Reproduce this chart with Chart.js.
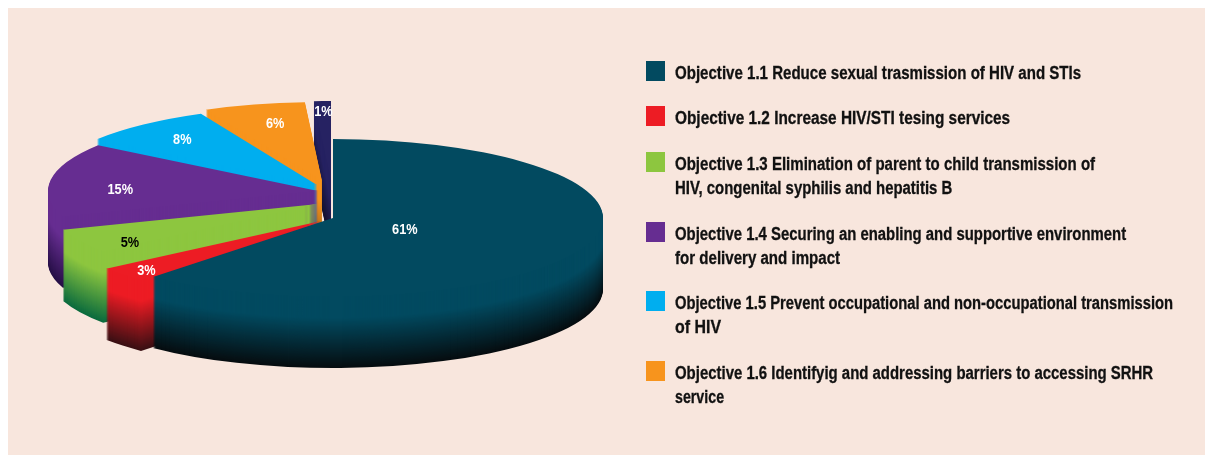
<!DOCTYPE html>
<html>
<head>
<meta charset="utf-8">
<title>Objectives</title>
<script src="https://cdn.jsdelivr.net/npm/chart.js@4/dist/chart.umd.min.js"></script>
<style>
  html, body { margin: 0; padding: 0; background: #fff; }
  body { width: 1205px; height: 455px; overflow: hidden; position: relative; }
  #panel { position: absolute; left: 8px; top: 8px; width: 1197px; height: 447px; background: #f8e6dd; }
  canvas { position: absolute; left: 0; top: 0; }
  #legend { position: absolute; left: 0; top: 0; font: bold 18px "Liberation Sans", sans-serif; color: #111; -webkit-text-stroke: 0.3px #111; }
  .item { position: absolute; left: 675px; line-height: 24px; white-space: nowrap; }
  .text { display: table; transform-origin: left top; }
  .swatch { position: absolute; left: -29px; top: 0; width: 19px; height: 20px; }
</style>
</head>
<body>
<div id="panel"></div>
<canvas id="pie" width="1205" height="455"></canvas>
<div id="legend"></div>
<script>
// valores
const percentages = [61, 3, 5, 15, 8, 6, 1];
const percentLabels = ["61%", "3%", "5%", "15%", "8%", "6%", "1%"];
const sliceColors = ["#024a60", "#ed1c24", "#8dc63f", "#662d91", "#00aeef", "#f7941d", "#262262"];
const sideColors = ["#060d10", "#3a1014", "#0b6b3e", "#260f46", "#0b5f90", "#8a5518", "#14122e"];
const labelColors = ["#fff", "#fff", "#000", "#fff", "#fff", "#fff", "#fff"];
const legendLabels = [
  ["Objective 1.1 Reduce sexual trasmission of HIV and STIs"],
  ["Objective 1.2 Increase HIV/STI tesing services"],
  ["Objective 1.3 Elimination of parent to child transmission of", "HIV, congenital syphilis and hepatitis B"],
  ["Objective 1.4 Securing an enabling and supportive environment", "for delivery and impact"],
  ["Objective 1.5 Prevent occupational and non-occupational transmission", "of HIV"],
  ["Objective 1.6 Identifyig and addressing barriers to accessing SRHR", "service"]
];
const legendTops = [61, 106, 152, 222, 291, 361];
// largura de cada linha na figura, a fonte original é condensada
const legendWidths = [[406], [335], [420, 277], [451, 165], [498, 46], [478, 49]];

// geometria do "3D"
const pieX = 333, pieY = 218, radiusX = 270, radiusY = 79, depth = 71;
const explode = [[0, 0], [-12, 3], [-15, -14], [-15, -27], [-16, -33], [-11, -37], [-2, -38]];
const labelFrac = [0.285, 0.88, 0.79, 0.74, 0.776, 0.69, 0.89];
const labelDrop = [4, 3, 9, 7, 2, -4, 2];

function mix(a, b, t) {
  const pa = parseInt(a.slice(1), 16), pb = parseInt(b.slice(1), 16);
  const ch = (s) => Math.round(((pa >> s) & 255) * (1 - t) + ((pb >> s) & 255) * t);
  return `rgb(${ch(16)},${ch(8)},${ch(0)})`;
}

const pie3d = {
  id: "pie3d",
  // cancela o desenho normal e redesenha cada fatia achatada e extrudada
  beforeDatasetDraw(chart) {
    const ctx = chart.ctx;
    const arcs = chart.getDatasetMeta(0).data;
    for (let i = arcs.length - 1; i >= 0; i--) {
      const arc = arcs[i];
      const base = arc.options;
      const sx = radiusX / arc.outerRadius, sy = radiusY / arc.outerRadius;
      for (let k = depth; k >= 0; k--) {
        const t = Math.max(0, (k / depth - 0.3) / 0.7);
        arc.options = Object.assign({}, base, { backgroundColor: mix(sliceColors[i], sideColors[i], t), borderWidth: 0 });
        ctx.save();
        ctx.translate(pieX + explode[i][0], pieY + explode[i][1] + k);
        ctx.scale(sx, sy);
        ctx.translate(-arc.x, -arc.y);
        arc.draw(ctx);
        ctx.restore();
      }
      arc.options = base;
    }
    return false;
  },
  afterDatasetsDraw(chart) {
    const ctx = chart.ctx;
    chart.getDatasetMeta(0).data.forEach((arc, i) => {
      const mid = (arc.startAngle + arc.endAngle) / 2;
      const x = pieX + explode[i][0] + Math.cos(mid) * radiusX * labelFrac[i];
      const y = pieY + explode[i][1] + Math.sin(mid) * radiusY * labelFrac[i] + labelDrop[i];
      ctx.save();
      ctx.translate(x, y);
      ctx.scale(0.85, 1);
      ctx.font = 'bold 15px "Liberation Sans", sans-serif';
      ctx.textAlign = "center";
      ctx.textBaseline = "middle";
      ctx.fillStyle = labelColors[i];
      ctx.fillText(percentLabels[i], 0, 0);
      ctx.restore();
    });
  }
};

new Chart(document.getElementById("pie").getContext("2d"), {
  type: "pie",
  data: {
    labels: percentLabels,
    datasets: [{ data: percentages, backgroundColor: sliceColors, borderWidth: 0 }]
  },
  options: {
    responsive: false,
    animation: false,
    plugins: { legend: { display: false }, tooltip: { enabled: false } }
  },
  plugins: [pie3d]
});

// legenda em HTML (a fatia de 1% não tem entrada)
const legend = document.getElementById("legend");
legendLabels.forEach((lines, i) => {
  const item = document.createElement("div");
  item.className = "item";
  item.style.top = legendTops[i] + "px";
  item.innerHTML = `<span class="swatch" style="background:${sliceColors[i]}"></span>`;
  legend.appendChild(item);
  lines.forEach((line, j) => {
    const span = document.createElement("span");
    span.className = "text";
    span.textContent = line;
    item.appendChild(span);
    span.style.transform = `scaleX(${legendWidths[i][j] / span.offsetWidth})`;
  });
});
</script>
</body>
</html>
